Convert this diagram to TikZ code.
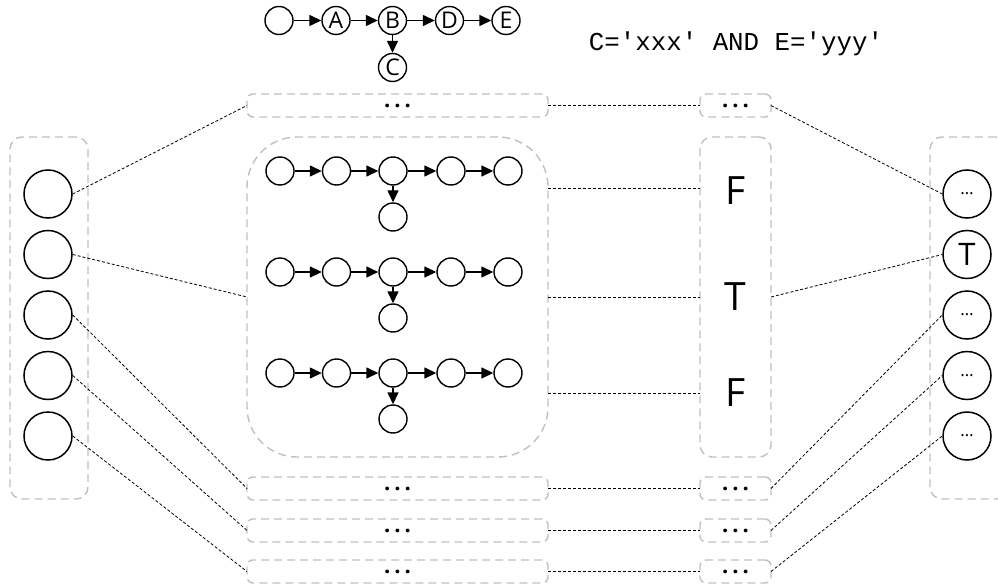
\documentclass[tikz,border=0pt]{standalone}
\usepackage{fontspec}
\setmainfont{Open Sans}
\newfontfamily\monofont{Liberation Mono}
\usetikzlibrary{arrows.meta}
\definecolor{gcol}{RGB}{192,192,192}
\newcommand{\wdots}{.\kern4pt.\kern4pt.}
\begin{document}
\begin{tikzpicture}[x=1pt,y=-1pt,
  circ/.style={circle,draw,line width=1.4pt,minimum size=28pt,inner sep=0pt,font=\fontsize{23}{23}\selectfont},
  bigc/.style={circle,draw,line width=1.5pt,minimum size=48pt,inner sep=0pt},
  cont/.style={draw=gcol,line width=1.4pt,dash pattern=on 8pt off 5pt,inner sep=0pt,outer sep=0pt,rounded corners=#1},
  cont/.default=6pt,
  arr/.style={-{Triangle[length=12pt,width=11pt]},line width=1.4pt},
  conn/.style={line width=0.8pt,dash pattern=on 3pt off 2pt},
  dotsf/.style={font=\fontsize{22}{22}\selectfont\bfseries},
  bigl/.style={font=\fontsize{39}{39}\selectfont}
]
\useasboundingbox (0,0) rectangle (998,588);
\clip (0,0) rectangle (998,588);

% top tree
\node[circ] (t0) at (279,20.5) {};
\node[circ] (t1) at (336,20.5) {A};
\node[circ] (t2) at (392.5,20.5) {B};
\node[circ] (t3) at (449.5,20.5) {D};
\node[circ] (t4) at (506,20.5) {E};
\node[circ] (tc) at (392.5,67.5) {C};
\draw[arr] (t0) -- (t1);
\draw[arr] (t1) -- (t2);
\draw[arr] (t2) -- (t3);
\draw[arr] (t3) -- (t4);
\draw[arr] (t2) -- (tc);

\node[font=\monofont\fontsize{25.8}{25.8}\selectfont] (cond) at (736,44) {C='xxx' AND E='yyy'};

% containers
\node[cont, minimum width=78pt, minimum height=362pt, cont=12pt] (lcol) at (49,318) {};
\node[cont, minimum width=78pt, minimum height=362pt, cont=12pt] (rcol) at (969,318) {};
\node[cont, minimum width=301pt, minimum height=320pt, cont=50pt] (bigmid) at (397.5,297) {};
\node[cont, minimum width=71pt, minimum height=320pt, cont=12pt] (ftcol) at (735.5,297) {};

\node[cont, minimum width=301pt, minimum height=23pt, dotsf] (topmid) at (397.5,105.5) {\wdots};
\node[cont, minimum width=71pt, minimum height=23pt, dotsf] (topsm) at (735.5,105.5) {\wdots};
\foreach \i/\y in {1/488.5,2/530.5,3/571.5}{
  \node[cont, minimum width=301pt, minimum height=23pt, dotsf] (bm\i) at (397.5,\y) {\wdots};
  \node[cont, minimum width=71pt, minimum height=23pt, dotsf] (bs\i) at (735.5,\y) {\wdots};
}

% left circles
\foreach \i/\y in {1/194,2/254.5,3/315,4/375.5,5/436}{
  \node[bigc] (lc\i) at (48,\y) {};
}
% right circles
\node[bigc, font=\fontsize{17}{17}\selectfont] (rc1) at (967,194) {…};
\node[bigc, font=\fontsize{31}{31}\selectfont] (rc2) at (967,254.5) {T};
\node[bigc, font=\fontsize{17}{17}\selectfont] (rc3) at (967,315) {…};
\node[bigc, font=\fontsize{17}{17}\selectfont] (rc4) at (967,375.5) {…};
\node[bigc, font=\fontsize{17}{17}\selectfont] (rc5) at (967,436) {…};

% mini trees
\foreach \r/\y in {1/171,2/272,3/373}{
  \node[circ] (m\r a) at (280,\y) {};
  \node[circ] (m\r b) at (336.5,\y) {};
  \node[circ] (m\r c) at (393,\y) {};
  \node[circ] (m\r d) at (451,\y) {};
  \node[circ] (m\r e) at (508,\y) {};
  \node[circ] (m\r f) at (393,\y+46) {};
  \draw[arr] (m\r a) -- (m\r b);
  \draw[arr] (m\r b) -- (m\r c);
  \draw[arr] (m\r c) -- (m\r d);
  \draw[arr] (m\r d) -- (m\r e);
  \draw[arr] (m\r c) -- (m\r f);
}

% F/T labels
\node[bigl] (f1) at (735.5,191) {F};
\node[bigl] (f2) at (735.5,297) {T};
\node[bigl] (f3) at (735.5,393) {F};

% connectors
\draw[conn] (lc1.east) -- (topmid.west);
\draw[conn] (lc2.east) -- (bigmid.west);
\draw[conn] (lc3.east) -- (bm1.west);
\draw[conn] (lc4.east) -- (bm2.west);
\draw[conn] (lc5.east) -- (bm3.west);

\draw[conn] (topmid.east) -- (topsm.west);
\foreach \i in {1,2,3}{
  \draw[conn] (bm\i.east) -- (bs\i.west);
}
\coordinate (b1) at (547.5,188);
\coordinate (b2) at (547.5,297);
\coordinate (b3) at (547.5,393);
\draw[conn] (b1) -- (b1 -| ftcol.west);
\draw[conn] (b2) -- (b2 -| ftcol.west);
\draw[conn] (b3) -- (b3 -| ftcol.west);

\draw[conn] (topsm.east) -- (rc1.west);
\draw[conn] (ftcol.east |- f2) -- (rc2.west);
\draw[conn] (bs1.east) -- (rc3.west);
\draw[conn] (bs2.east) -- (rc4.west);
\draw[conn] (bs3.east) -- (rc5.west);
\end{tikzpicture}
\end{document}
